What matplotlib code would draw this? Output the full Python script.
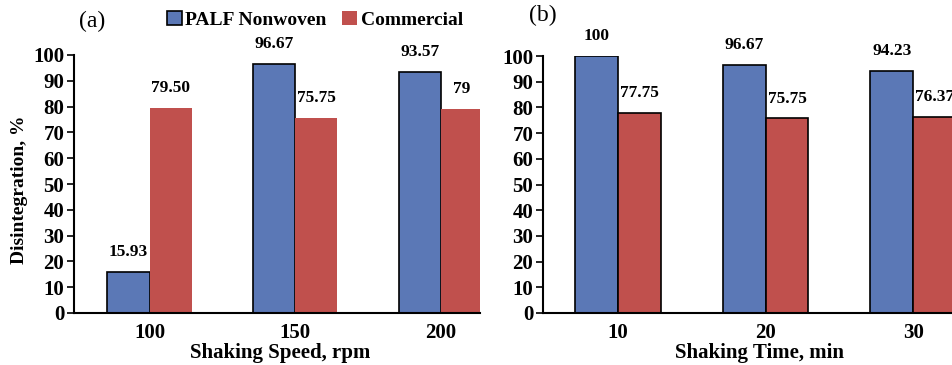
import matplotlib
matplotlib.use("Agg")
import matplotlib.pyplot as plt
import numpy as np

speed_labels = ["100", "150", "200"]
speed_palf = [15.93, 96.67, 93.57]
speed_comm = [79.50, 75.75, 79]
speed_palf_txt = ["15.93", "96.67", "93.57"]
speed_comm_txt = ["79.50", "75.75", "79"]

time_labels = ["10", "20", "30"]
time_palf = [100, 96.67, 94.23]
time_comm = [77.75, 75.75, 76.37]
time_palf_txt = ["100", "96.67", "94.23"]
time_comm_txt = ["77.75", "75.75", "76.37"]

yticks = list(range(0, 101, 10))

BLUE = "#5B78B6"
RED = "#C0504D"
FONT = "Liberation Serif"

plt.rcParams["font.family"] = FONT
plt.rcParams["font.weight"] = "bold"

W, H = 953, 365
fig = plt.figure(figsize=(W / 100, H / 100), dpi=100)

def px_axes(x0, x1, y_top, y_bot):
    return fig.add_axes([x0 / W, 1 - y_bot / H, (x1 - x0) / W, (y_bot - y_top) / H])

ax1 = px_axes(74, 480, 55, 313)
ax2 = px_axes(543, 953, 56, 313)

bw = 0.29

def draw(ax, labels, palf, comm, palf_txt, comm_txt, red_edge, xlabel):
    x = np.arange(len(labels))
    b1 = ax.bar(x - bw / 2, palf, bw, color=BLUE, edgecolor="black", linewidth=1.2,
                label="PALF Nonwoven")
    if red_edge:
        b2 = ax.bar(x + bw / 2, comm, bw, color=RED, edgecolor="black", linewidth=1.2,
                    label="Commercial")
    else:
        b2 = ax.bar(x + bw / 2, comm, bw, color=RED, linewidth=0, label="Commercial")
    for xi, v, t in zip(x - bw / 2, palf, palf_txt):
        ax.annotate(t, (xi, v), xytext=(0, 8.5), textcoords="offset points",
                    ha="center", va="bottom", fontsize=12.5, fontweight="bold",
                    annotation_clip=False)
    for xi, v, t in zip(x + bw / 2, comm, comm_txt):
        ax.annotate(t, (xi, v), xytext=(0, 8.5), textcoords="offset points",
                    ha="center", va="bottom", fontsize=12.5, fontweight="bold",
                    annotation_clip=False)
    ax.set_ylim(0, 100)
    ax.set_yticks(yticks)
    ax.set_xticks(x)
    ax.set_xticklabels(labels)
    ax.tick_params(axis="x", length=0, labelsize=15, pad=7)
    ax.tick_params(axis="y", length=5, width=1.2, labelsize=15, pad=2, direction="out")
    for s in ["top", "right"]:
        ax.spines[s].set_visible(False)
    for s in ["left", "bottom"]:
        ax.spines[s].set_linewidth(1.5)
    ax.set_xlabel(xlabel, fontsize=15, fontweight="bold")
    return b1, b2

b1, b2 = draw(ax1, speed_labels, speed_palf, speed_comm, speed_palf_txt, speed_comm_txt,
              False, "Shaking Speed, rpm")
ax1.set_xlim(-0.52, 2.27)
draw(ax2, time_labels, time_palf, time_comm, time_palf_txt, time_comm_txt,
     True, "Shaking Time, min")
ax2.set_xlim(-0.51, 2.27)
ax2.xaxis.set_label_coords((760 - 543) / (953 - 543), -0.118)
ax1.xaxis.set_label_coords((280 - 74) / (480 - 74), -0.118)
ax2.xaxis.label.set_va("top")
ax1.xaxis.label.set_va("top")

ax1.set_ylabel("Disintegration, %", fontsize=14, fontweight="bold")
ax1.yaxis.set_label_coords(-46 / (480 - 74), (313 - 190) / (313 - 55))

fig.legend(handles=[b1, b2], loc="center", bbox_to_anchor=(315 / W, 1 - 20 / H),
           ncol=2, frameon=False, fontsize=14, handlelength=0.75, handleheight=0.75,
           handletextpad=0.2, columnspacing=0.8, borderpad=0)

fig.text(92 / W, 1 - 21 / H, "(a)", fontsize=17, fontweight="normal", ha="center", va="center")
fig.text(543 / W, 1 - 15 / H, "(b)", fontsize=17, fontweight="normal", ha="center", va="center")

fig.savefig("out.png", dpi=100)
